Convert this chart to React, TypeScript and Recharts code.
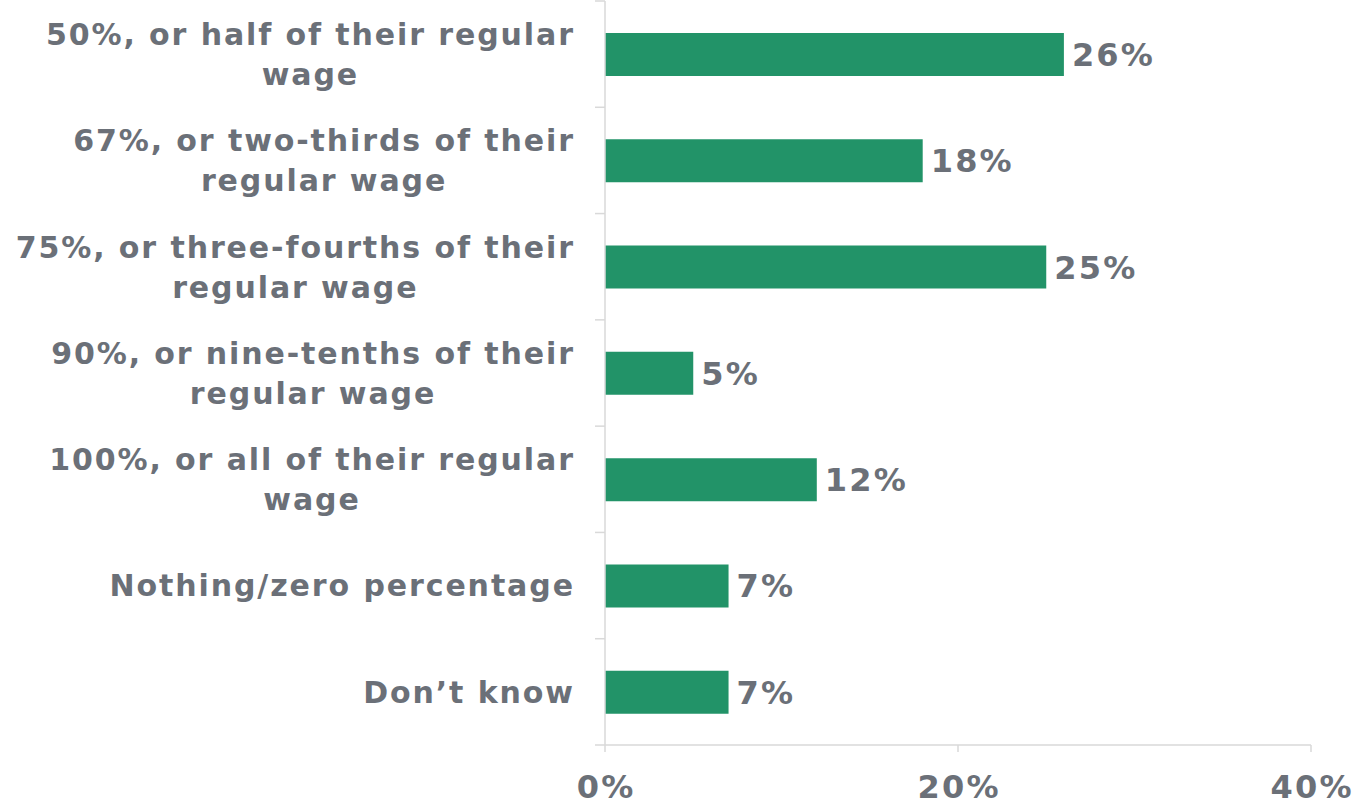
import React from "react";
import { BarChart, Bar, XAxis, YAxis, LabelList } from "recharts";

const categories = [
  "50%, or half of their regular\nwage",
  "67%, or two-thirds of their\nregular wage",
  "75%, or three-fourths of their\nregular wage",
  "90%, or nine-tenths of their\nregular wage",
  "100%, or all of their regular\nwage",
  "Nothing/zero percentage",
  "Don’t know",
];
const values = [26, 18, 25, 5, 12, 7, 7];
const xTicks = [0, 20, 40];

const data = categories.map((c, i) => ({ name: c, value: values[i] }));

const TEXT = "#6b7078";
const AXIS = "#d9d9d9";
const BAR = "#229368";
const FONT = "'DejaVu Sans', Verdana, sans-serif";
const FS = 30;
const LS = 1.9;
const NFS = 32;
const NLS = 2.2;

let ctx: CanvasRenderingContext2D | null = null;
function measure(s: string): number {
  if (!ctx) {
    const c = document.createElement("canvas");
    ctx = c.getContext("2d");
  }
  const base = ctx
    ? (() => {
        ctx!.font = `bold ${FS}px ${FONT}`;
        return ctx!.measureText(s).width;
      })()
    : s.length * FS * 0.62;
  return base + LS * (s.length - 1);
}

function YTick(props: any) {
  const { x, y, payload, index, visibleTicksCount } = props;
  const lines: string[] = String(payload.value).split("\n");
  const half = payload.offset ?? 53;
  const widths = lines.map(measure);
  const maxW = Math.max(...widths);
  const cx = x - 32 - maxW / 2 + LS / 2;
  const lh = 40;
  const startY = y - ((lines.length - 1) * lh) / 2;
  const last = index === visibleTicksCount - 1;
  return (
    <g>
      <line x1={x - 10} x2={x} y1={y - half} y2={y - half} stroke={AXIS} strokeWidth={1.5} />
      {last && <line x1={x - 10} x2={x} y1={y + half} y2={y + half} stroke={AXIS} strokeWidth={1.5} />}
      <text
        x={cx}
        y={startY}
        textAnchor="middle"
        fill={TEXT}
        fontFamily={FONT}
        fontWeight="bold"
        fontSize={FS}
        letterSpacing={LS}
      >
        {lines.map((l, i) => (
          <tspan key={i} x={cx} y={startY + i * lh} dy="0.36em">
            {l}
          </tspan>
        ))}
      </text>
    </g>
  );
}

function XTick(props: any) {
  const { x, y, payload } = props;
  return (
    <text
      x={x + NLS / 2}
      y={y + 46}
      textAnchor="middle"
      fill={TEXT}
      fontFamily={FONT}
      fontWeight="bold"
      fontSize={NFS}
      letterSpacing={NLS}
    >
      {payload.value + "%"}
    </text>
  );
}

function ValueLabel(props: any) {
  const { x, y, width, height, value } = props;
  return (
    <text
      x={Number(x) + Number(width) + 8}
      y={Number(y) + Number(height) / 2}
      dy="0.36em"
      textAnchor="start"
      fill={TEXT}
      fontFamily={FONT}
      fontWeight="bold"
      fontSize={NFS}
      letterSpacing={NLS}
    >
      {value + "%"}
    </text>
  );
}

export default function App() {
  return (
    <div style={{ position: "absolute", left: 0, top: 0, background: "#fff" }}>
      <BarChart
        width={1359}
        height={803}
        data={data}
        layout="vertical"
        margin={{ top: 1, right: 48, bottom: 0, left: 0 }}
      >
        <XAxis
          type="number"
          domain={[0, 40]}
          ticks={xTicks}
          height={58}
          tick={<XTick />}
          tickSize={7}
          tickMargin={0}
          axisLine={{ stroke: AXIS, strokeWidth: 1.5 }}
          tickLine={{ stroke: AXIS, strokeWidth: 1.5 }}
          interval={0}
        />
        <YAxis
          type="category"
          dataKey="name"
          width={605}
          tick={<YTick />}
          tickSize={0}
          tickMargin={0}
          tickLine={false}
          axisLine={{ stroke: AXIS, strokeWidth: 1.5 }}
          interval={0}
        />
        <Bar dataKey="value" fill={BAR} barSize={43} isAnimationActive={false}>
          <LabelList dataKey="value" content={<ValueLabel />} />
        </Bar>
      </BarChart>
    </div>
  );
}
